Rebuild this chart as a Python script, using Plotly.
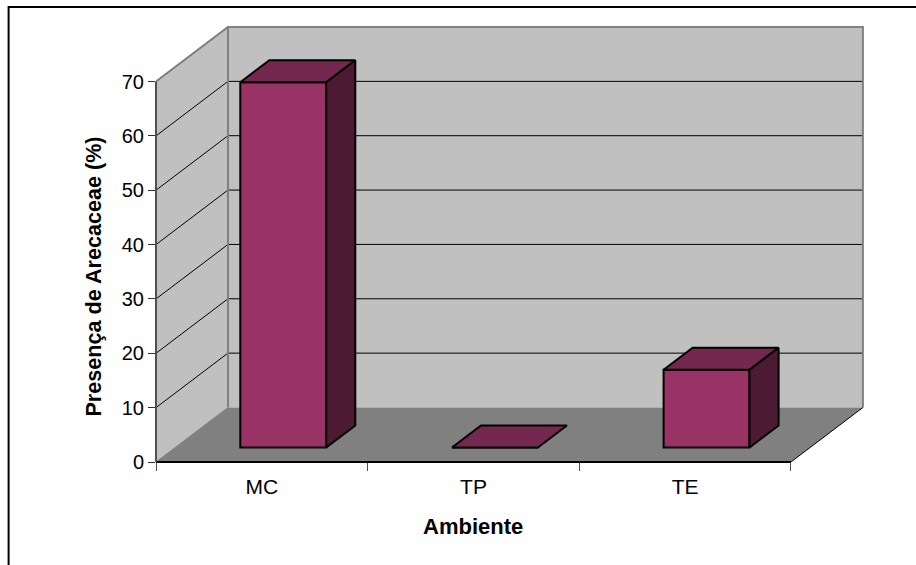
import plotly.graph_objects as go

# --- data ---
categories = ["MC", "TP", "TE"]
presence = [67.2, 0, 14.3]
y_ticks = [0, 10, 20, 30, 40, 50, 60, 70]
x_title = "Ambiente"
y_title = "Presença de Arecaceae (%)"

# --- layout constants (pixels) ---
W, H = 916, 565
LEFT, BOTTOM_Y = 155.5, 462
PX_CAT = 635.4 / 3
PX_UNIT = 380.5 / 70
DEPTH_PX_X, DEPTH_PX_Y = 72, 54.5
RIGHT_PX, TOP_PX = 867, 23
DX = DEPTH_PX_X / PX_CAT
DY = DEPTH_PX_Y / PX_UNIT
XMAX = (RIGHT_PX - LEFT) / PX_CAT
YMAX = (BOTTOM_Y - TOP_PX) / PX_UNIT
NCAT = len(categories)
YTOP = y_ticks[-1]

BAR_W = 86 / PX_CAT
BAR_SHIFT = 2.3 / PX_CAT
F0, F1 = 0.266, 0.67   # bar depth extent as a fraction of the floor depth

WALL, FLOOR, EDGE = "#C0C0C0", "#808080", "#808080"
FRONT, TOP, SIDE = "#993366", "#742850", "#4D1A33"
FONT = "Liberation Sans"


def path(pts):
    return "M " + " L ".join(f"{x},{y}" for x, y in pts) + " Z"


shapes = []
# back wall, side wall, floor
shapes.append(dict(type="path", xref="x", yref="y", layer="below", line_width=0, fillcolor=WALL,
                   path=path([(DX, DY), (NCAT + DX, DY), (NCAT + DX, YTOP + DY), (DX, YTOP + DY)])))
shapes.append(dict(type="path", xref="x", yref="y", layer="below", line_width=0, fillcolor=WALL,
                   path=path([(0, 0), (DX, DY), (DX, YTOP + DY), (0, YTOP)])))
shapes.append(dict(type="path", xref="x", yref="y", layer="below", line_width=0, fillcolor=FLOOR,
                   path=path([(0, 0), (NCAT, 0), (NCAT + DX, DY), (DX, DY)])))
# gridlines
for v in y_ticks[1:]:
    shapes.append(dict(type="path", xref="x", yref="y", layer="below", fillcolor="rgba(0,0,0,0)",
                       line=dict(color="#000000", width=1),
                       path=f"M 0,{v} L {DX},{v + DY} L {NCAT + DX},{v + DY}"))
# wall edges
shapes.append(dict(type="path", xref="x", yref="y", layer="below", fillcolor="rgba(0,0,0,0)",
                   line=dict(color=EDGE, width=2),
                   path=f"M 0,{YTOP} L {DX},{YTOP + DY} L {NCAT + DX},{YTOP + DY} L {NCAT + DX},{DY}"))
shapes.append(dict(type="line", xref="x", yref="y", layer="below", x0=DX, x1=DX, y0=0 + DY, y1=YTOP + DY,
                   line=dict(color=EDGE, width=2)))
shapes.append(dict(type="line", xref="x", yref="y", layer="below", x0=0, x1=DX, y0=0, y1=DY,
                   line=dict(color=EDGE, width=1)))
shapes.append(dict(type="line", xref="x", yref="y", layer="below", x0=NCAT, x1=NCAT + DX, y0=0, y1=DY,
                   line=dict(color="#000000", width=1)))
# axis lines (paper coordinates so they are not clipped at the plot edge)
px_w = RIGHT_PX - LEFT
px_h = BOTTOM_Y - TOP_PX
shapes.append(dict(type="line", xref="paper", yref="paper", x0=0, x1=NCAT * PX_CAT / px_w, y0=0, y1=0,
                   line=dict(color="#000000", width=2)))
shapes.append(dict(type="line", xref="paper", yref="paper", x0=0, x1=0, y0=0, y1=YTOP * PX_UNIT / px_h,
                   line=dict(color="#505050", width=2)))
# outer chart frame (open on the right and at the bottom, as in the crop)
fx = lambda p: (p - LEFT) / px_w
fy = lambda p: (BOTTOM_Y - p) / px_h
shapes.append(dict(type="path", xref="paper", yref="paper", fillcolor="rgba(0,0,0,0)",
                   line=dict(color="#000000", width=2),
                   path=f"M {fx(8)},{fy(566)} L {fx(8)},{fy(7)} L {fx(917)},{fy(7)}"))

fig = go.Figure()

xc = [i + 0.5 + (F0 * DX) + BAR_SHIFT for i in range(NCAT)]
base = F0 * DY
# front faces through the bar trace
fig.add_trace(go.Bar(x=xc, y=presence, base=[base] * NCAT, width=BAR_W,
                     marker=dict(color=FRONT, line=dict(color="#000000", width=2)),
                     hovertemplate="%{y}<extra></extra>", showlegend=False))

dd_x = (F1 - F0) * DX
dd_y = (F1 - F0) * DY
for c, v in zip(xc, presence):
    l, r, t = c - BAR_W / 2, c + BAR_W / 2, base + v
    # top face
    fig.add_trace(go.Scatter(x=[l, r, r + dd_x, l + dd_x, l], y=[t, t, t + dd_y, t + dd_y, t],
                             mode="lines", fill="toself", fillcolor=TOP,
                             line=dict(color="#000000", width=2), hoverinfo="skip", showlegend=False))
    # side face
    if v > 0:
        fig.add_trace(go.Scatter(x=[r, r + dd_x, r + dd_x, r, r],
                                 y=[base, base + dd_y, t + dd_y, t, base],
                                 mode="lines", fill="toself", fillcolor=SIDE,
                                 line=dict(color="#000000", width=2), hoverinfo="skip", showlegend=False))

fig.update_layout(
    width=W, height=H, autosize=False,
    margin=dict(l=LEFT, r=W - RIGHT_PX, t=TOP_PX, b=H - BOTTOM_Y, pad=0),
    paper_bgcolor="#FFFFFF", plot_bgcolor="#FFFFFF",
    font=dict(family=FONT, size=20, color="#000000"),
    shapes=shapes,
    xaxis=dict(range=[0, XMAX], showgrid=False, zeroline=False, showline=False,
               tickmode="array", tickvals=[i + 0.5 for i in range(NCAT)], ticktext=categories,
               ticks="outside", ticklen=6, tickcolor="rgba(0,0,0,0)", tickwidth=1,
               tickfont=dict(size=21, family=FONT),
               minor=dict(tickmode="array", tickvals=list(range(NCAT + 1)), ticks="outside",
                          ticklen=8, tickcolor="#505050", tickwidth=1, showgrid=False)),
    yaxis=dict(range=[0, YMAX], showgrid=False, zeroline=False, showline=False,
               tickmode="array", tickvals=y_ticks,
               ticks="outside", ticklen=7, tickcolor="#303030", tickwidth=1,
               tickfont=dict(size=20, family=FONT)),
    annotations=[
        dict(text=f"<b>{x_title}</b>", xref="x", yref="paper", x=1.5, y=fy(526), showarrow=False,
             font=dict(size=22, family=FONT), xanchor="center", yanchor="middle"),
        dict(text=f"<b>{y_title}</b>", xref="paper", yref="paper", x=fx(92), y=fy(277), showarrow=False,
             textangle=-90, font=dict(size=21.6, family=FONT), xanchor="center", yanchor="middle"),
    ],
)

fig.write_html("out.html", config={"displayModeBar": False},
               post_script="document.body.style.margin='0';")
